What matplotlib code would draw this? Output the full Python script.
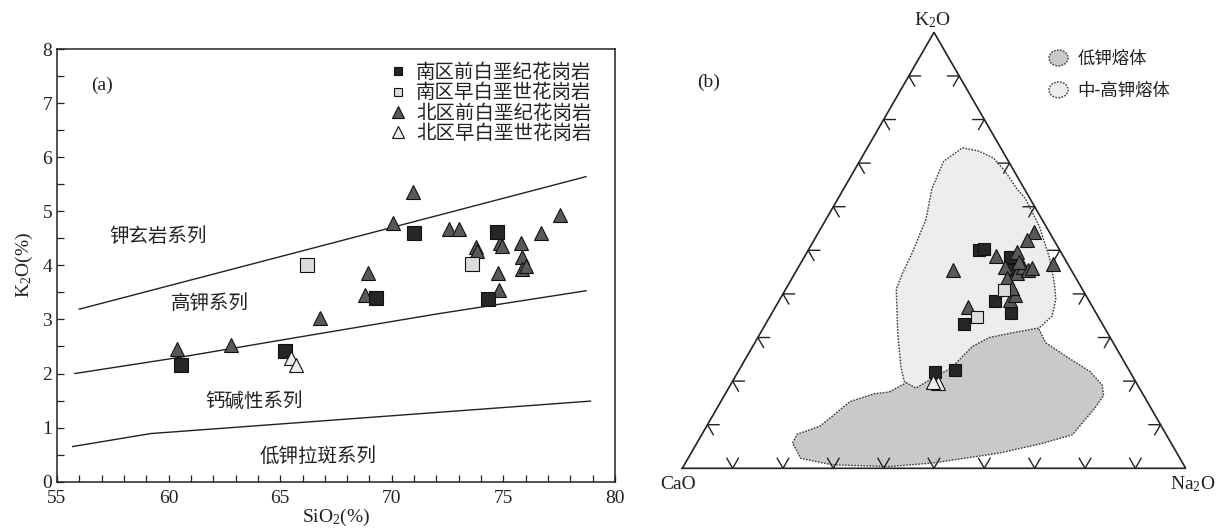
import numpy as np
import matplotlib
matplotlib.use('Agg')
import matplotlib.pyplot as plt
from matplotlib.lines import Line2D
from matplotlib.patches import Polygon, Ellipse, Patch
from matplotlib.legend_handler import HandlerPatch

plt.rcParams['mathtext.fontset'] = 'custom'
plt.rcParams['mathtext.rm'] = 'Liberation Serif'
plt.rcParams['mathtext.it'] = 'Liberation Serif:italic'
plt.rcParams['mathtext.bf'] = 'Liberation Serif:bold'
SERIF = ['Liberation Serif', 'DejaVu Serif']
CJK = ['Noto Sans CJK SC', 'DejaVu Sans']

# ---------------- data: panel (a) SiO2 vs K2O ----------------
series_labels = ['南区前白垩纪花岗岩', '南区早白垩世花岗岩', '北区前白垩纪花岗岩', '北区早白垩世花岗岩']

south_pre_si = [60.56, 65.21, 69.31, 71.0, 74.73, 74.33]
south_pre_k = [2.15, 2.42, 3.39, 4.60, 4.62, 3.37]
south_early_si = [66.22, 73.58]
south_early_k = [4.01, 4.02]
north_pre_si = [60.39, 62.78, 66.78, 68.80, 68.95, 70.07, 70.96, 72.58, 73.01, 73.77, 73.80,
                74.85, 74.95, 74.77, 74.80, 75.78, 75.82, 75.82, 76.01, 76.67, 77.54]
north_pre_k = [2.45, 2.53, 3.03, 3.45, 3.86, 4.78, 5.36, 4.68, 4.68, 4.34, 4.27,
               4.42, 4.35, 3.86, 3.54, 4.41, 4.15, 3.93, 3.99, 4.59, 4.93]
north_early_si = [65.47, 65.71]
north_early_k = [2.28, 2.16]

# series boundary lines
shosh_line_si = [56.0, 70.0, 78.7]
shosh_line_k = [3.19, 4.70, 5.64]
highk_line_si = [55.8, 60.5, 65.5, 72.0, 78.7]
highk_line_k = [2.00, 2.30, 2.65, 3.10, 3.53]
lowk_line_si = [55.7, 59.2, 78.9]
lowk_line_k = [0.65, 0.89, 1.49]

field_names = ['钾玄岩系列', '高钾系列', '钙碱性系列', '低钾拉斑系列']
field_si = [59.55, 61.85, 63.82, 66.70]
field_k = [4.54, 3.29, 1.48, 0.47]

# ---------------- data: panel (b) ternary K2O-Na2O-CaO (%) ----------------
t_south_pre_k = [50.0, 50.2, 48.4, 45.5, 38.4, 35.7, 33.0, 22.2, 22.6]
t_south_pre_na = [34.0, 34.8, 40.8, 42.6, 42.9, 47.4, 39.4, 39.1, 42.9]
t_south_early_k = [40.9, 34.8]
t_south_early_na = [43.5, 41.1]
t_north_pre_k = [54.1, 52.4, 48.7, 49.6, 46.2, 44.7, 46.2, 45.5, 45.9, 47.4, 43.6,
                 45.5, 46.8, 37.1, 38.6, 39.8, 41.3]
t_north_pre_na = [42.8, 42.2, 38.0, 41.7, 41.0, 44.2, 44.6, 46.0, 46.5, 43.1, 42.8,
                  31.1, 50.3, 38.3, 45.7, 46.2, 44.8]
t_north_early_k = [19.6, 19.9]
t_north_early_na = [41.0, 39.9]

melt_labels = ['低钾熔体', '中-高钾熔体']
light_k = [73.5, 72.8, 71.2, 68.1, 64.2, 61.8, 55.6, 48.7, 42.6, 38.8, 34.9, 32.2, 31.1, 30.0,
           28.0, 25.7, 23.0, 21.1, 18.4, 19.9, 23.4, 31.1, 41.1, 44.9, 49.5, 57.1, 64.2, 70.4]
light_na = [18.9, 22.4, 26.2, 30.1, 34.3, 37.3, 43.1, 48.5, 52.6, 54.8, 56.0, 54.8, 50.1, 46.0,
            43.7, 42.85, 41.9, 39.85, 37.2, 34.15, 31.7, 27.25, 21.95, 21.35, 20.95, 19.85, 17.5, 16.7]
dark_k = [17.5, 21.4, 26.1, 31.1, 33.1, 31.8, 28.8, 25.7, 22.2, 19.1, 16.7, 13.6, 7.7, 5.8,
          3.5, 1.2, 0.4, 0.8, 2.3, 5.8, 7.8, 9.7, 15.3, 17.1]
dark_na = [32.35, 36.6, 41.85, 46.25, 52.95, 55.0, 57.8, 63.35, 69.9, 73.85, 75.35, 75.0, 73.65, 68.9,
           61.25, 49.1, 40.9, 29.3, 22.35, 19.0, 18.9, 22.55, 25.65, 29.55]

# ---------------- styles ----------------
C_SP = '#262626'
C_SE = '#dcdcdc'
C_NP = '#595959'
C_NE = '#ececec'
EC = '#111111'
TXT = '#222222'

W, H = 1223, 531
fig = plt.figure(figsize=(W / 100, H / 100), dpi=100)

# ================= panel (a) =================
ax = fig.add_axes([57 / W, (H - 481.7) / H, (615 - 57) / W, (481.7 - 49) / H])
ax.set_xlim(55, 80)
ax.set_ylim(0, 8)

for xs, ys in [(shosh_line_si, shosh_line_k), (highk_line_si, highk_line_k), (lowk_line_si, lowk_line_k)]:
    ax.plot(xs, ys, color='#222222', lw=1.0, zorder=2)

ax.plot(north_pre_si, north_pre_k, ls='none', marker='^', ms=10.5, mfc=C_NP, mec=EC, mew=0.8, zorder=3)
ax.plot(south_pre_si, south_pre_k, ls='none', marker='s', ms=9.5, mfc=C_SP, mec=EC, mew=0.8, zorder=4)
ax.plot(south_early_si, south_early_k, ls='none', marker='s', ms=9.5, mfc=C_SE, mec=EC, mew=0.8, zorder=4)
ax.plot(north_early_si, north_early_k, ls='none', marker='^', ms=10.5, mfc=C_NE, mec=EC, mew=0.8, zorder=4)

for name, x, y in zip(field_names, field_si, field_k):
    ax.text(x, y, name, family=CJK, fontsize=14, color=TXT, ha='center', va='center')

ax.text(57.0, 7.33, '(a)', family=SERIF, fontsize=14, color=TXT, ha='center', va='center')

ax.set_xticks(range(55, 81, 5))
ax.set_xticks(range(55, 81), minor=True)
ax.set_yticks(range(0, 9))
ax.set_yticks(np.arange(0, 8.01, 0.5), minor=True)
ax.tick_params(which='both', direction='in', length=5, width=0.9, top=False, right=False,
               labelsize=14, colors='#222222')
ax.tick_params(axis='x', pad=6)
for lab in ax.get_xticklabels() + ax.get_yticklabels():
    lab.set_family(SERIF)
for sp in ax.spines.values():
    sp.set_linewidth(1.1)
    sp.set_color('#222222')
ax.set_xlabel(r'SiO$_2$(%)', family=SERIF, fontsize=14, labelpad=0, color=TXT)
ax.set_ylabel(r'K$_2$O(%)', family=SERIF, fontsize=14, labelpad=5, color=TXT)

handles = [
    Line2D([], [], ls='none', marker='s', ms=6, mfc=C_SP, mec=EC, mew=0.8),
    Line2D([], [], ls='none', marker='s', ms=6, mfc=C_SE, mec=EC, mew=0.8),
    Line2D([], [], ls='none', marker='^', ms=8, mfc=C_NP, mec=EC, mew=0.8),
    Line2D([], [], ls='none', marker='^', ms=8, mfc=C_NE, mec=EC, mew=0.8),
]
leg = fig.legend(handles, series_labels, loc='upper left', bbox_to_anchor=(391 / W, (H - 62) / H),
                 frameon=False, borderpad=0, borderaxespad=0, handlelength=0.75, handletextpad=0.55,
                 labelspacing=-0.03, prop={'family': CJK, 'size': 14})
for t in leg.get_texts():
    t.set_color(TXT)

# ================= panel (b) ternary =================
S = 503.4  # px per unit side
x0px, y0px = 682.3, 468.3
xl = (-0.1, 1.07)
yl = (-0.12, 0.93)
left_px = x0px + xl[0] * S
bottom_px = y0px - yl[0] * S
ax2 = fig.add_axes([left_px / W, (H - bottom_px) / H, (xl[1] - xl[0]) * S / W, (yl[1] - yl[0]) * S / H])
ax2.set_xlim(*xl)
ax2.set_ylim(*yl)
ax2.axis('off')

s3 = np.sqrt(3) / 2


def tern(k, na):
    k = np.asarray(k, float) / 100.0
    na = np.asarray(na, float) / 100.0
    return na + k / 2.0, k * s3


# fields
xd, yd = tern(dark_k, dark_na)
ax2.add_patch(Polygon(np.column_stack([xd, yd]), closed=True, facecolor='#c9c9c9',
                      edgecolor='#3a3a3a', lw=1.0, ls=(0, (1.2, 1.0)), joinstyle='round', zorder=1))
xlf, ylf = tern(light_k, light_na)
ax2.add_patch(Polygon(np.column_stack([xlf, ylf]), closed=True, facecolor='#ededed',
                      edgecolor='#3a3a3a', lw=1.0, ls=(0, (1.2, 1.0)), joinstyle='round', zorder=2))

# triangle frame
ax2.plot([0, 1, 0.5, 0], [0, 0, s3, 0], color='#222222', lw=1.2, zorder=3, solid_joinstyle='miter')
L = 0.023
for i in range(1, 10):
    t = i / 10
    ax2.plot([t - 0.5 * L, t, t + 0.5 * L], [s3 * L, 0, s3 * L], color='#222222', lw=1.0, zorder=3)
    xa, ya = t / 2, t * s3
    ax2.plot([xa + L, xa, xa + 0.5 * L], [ya, ya, ya - s3 * L], color='#222222', lw=1.0, zorder=3)
    xb, yb = 1 - t / 2, t * s3
    ax2.plot([xb - L, xb, xb - 0.5 * L], [yb, yb, yb - s3 * L], color='#222222', lw=1.0, zorder=3)

# points
for kk, nn, mk, ms, fc, z in [
    (t_north_pre_k, t_north_pre_na, '^', 10.5, C_NP, 5),
    (t_south_pre_k, t_south_pre_na, 's', 8.5, C_SP, 4),
    (t_south_early_k, t_south_early_na, 's', 8.5, C_SE, 6),
    (t_north_early_k, t_north_early_na, '^', 10.5, C_NE, 6),
]:
    xp, yp = tern(kk, nn)
    ax2.plot(xp, yp, ls='none', marker=mk, ms=ms, mfc=fc, mec=EC, mew=0.8, zorder=z, clip_on=False)

ax2.annotate(r'K$_2$O', (0.5, s3), xytext=(-2, 12), textcoords='offset pixels', ha='center', va='center',
             family=SERIF, fontsize=14, color=TXT)
ax2.annotate('CaO', (0, 0), xytext=(-4, -16), textcoords='offset pixels', ha='center', va='center',
             family=SERIF, fontsize=14, color=TXT)
ax2.annotate(r'Na$_2$O', (1, 0), xytext=(7, -16), textcoords='offset pixels', ha='center', va='center',
             family=SERIF, fontsize=14, color=TXT)
ax2.text(0.052, 0.766, '(b)', family=SERIF, fontsize=14, color=TXT, ha='center', va='center')


def make_ellipse(legend, orig_handle, xdescent, ydescent, width, height, fontsize):
    return Ellipse((width / 2 - xdescent, height / 2 - ydescent), width, height * 1.15)


mh = [Patch(facecolor='#c9c9c9', edgecolor='#3a3a3a', lw=1.0, ls=(0, (1.2, 1.0))),
      Patch(facecolor='#ededed', edgecolor='#3a3a3a', lw=1.0, ls=(0, (1.2, 1.0)))]
leg2 = fig.legend(mh, melt_labels, loc='upper left', bbox_to_anchor=(1049 / W, (H - 50) / H),
                  frameon=False, borderpad=0, borderaxespad=0, handlelength=1.1, handleheight=0.85,
                  handletextpad=0.55, labelspacing=0.8, prop={'family': CJK, 'size': 12.5},
                  handler_map={Patch: HandlerPatch(patch_func=make_ellipse)})
for t in leg2.get_texts():
    t.set_color(TXT)

fig.savefig('out.png', dpi=100)
